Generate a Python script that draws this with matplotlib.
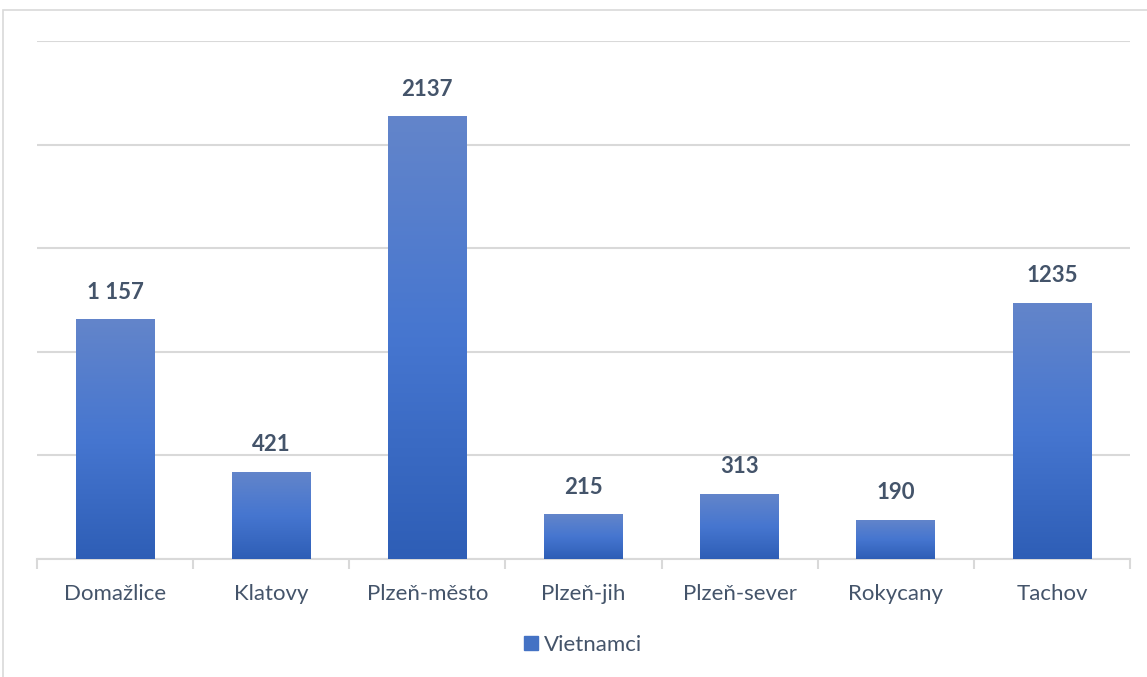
import numpy as np
import matplotlib
matplotlib.use("Agg")
import matplotlib.pyplot as plt
from matplotlib.patches import Rectangle
from matplotlib.colors import LinearSegmentedColormap

# Počty Vietnamců podle okresů
okresy = ["Domažlice", "Klatovy", "Plzeň-město", "Plzeň-jih", "Plzeň-sever", "Rokycany", "Tachov"]
pocty = [1157, 421, 2137, 215, 313, 190, 1235]
popisky = ["1 157", "421", "2137", "215", "313", "190", "1235"]
serie = "Vietnamci"

TEXT = "#44546A"
GRID = "#D9D9D9"
plt.rcParams["font.family"] = ["Lato", "DejaVu Sans"]

W, H = 1147, 677
fig = plt.figure(figsize=(W / 100, H / 100), dpi=100)

# rámeček grafu
fig.patches.append(Rectangle((3 / W, -0.1), 1.0, 1.1 - 10 / H, transform=fig.transFigure,
                             fill=False, edgecolor=GRID, lw=1.2))

ax = fig.add_axes([37 / W, 118 / H, (1130 - 37) / W, (559 - 41) / H])
x = np.arange(len(okresy))
bars = ax.bar(x, pocty, width=0.505, color="#4472C4", zorder=2)

# přechod barvy ve sloupcích (nahoře světlejší)
grad = LinearSegmentedColormap.from_list("g", ["#2E5EB6", "#4676D0", "#6385CA"])
g = np.linspace(0, 1, 256).reshape(-1, 1)
for b in bars:
    bx, by, bw, bh = b.get_x(), b.get_y(), b.get_width(), b.get_height()
    im = ax.imshow(g, cmap=grad, origin="lower", aspect="auto",
                   extent=[bx, bx + bw, by, by + bh], zorder=3)
    im.set_clip_path(b)
    b.set_alpha(0)

for xi, v, lab in zip(x, pocty, popisky):
    ax.annotate(lab, (xi, v), xytext=(0, 12), textcoords="offset points",
                ha="center", va="bottom", fontsize=16, fontweight="bold", color=TEXT)

ax.set_xlim(-0.5, len(okresy) - 0.5)
ax.set_ylim(0, 2500)
ax.set_yticks(np.arange(0, 2501, 500))
ax.yaxis.grid(True, color=GRID, lw=1.5, zorder=0)
ax.tick_params(axis="y", left=False, labelleft=False)

ax.set_xticks(x)
ax.set_xticklabels(okresy, fontsize=16, color=TEXT)
ax.set_xticks(np.arange(-0.5, len(okresy)), minor=True)
ax.tick_params(axis="x", which="major", length=0, pad=18)
ax.tick_params(axis="x", which="minor", length=7, color=GRID, width=1.5)

for s in ["top", "right", "left"]:
    ax.spines[s].set_visible(False)
ax.spines["bottom"].set_color(GRID)
ax.spines["bottom"].set_linewidth(1.5)

leg = ax.legend([Rectangle((0, 0), 1, 1, color="#4472C4")], [serie], loc="center",
                bbox_to_anchor=(0.5, (677 - 645 - 118) / (559 - 41)), frameon=False,
                fontsize=16, handlelength=0.6, handleheight=0.6, handletextpad=0.3)
for t in leg.get_texts():
    t.set_color(TEXT)

fig.savefig("out.png", dpi=100)
